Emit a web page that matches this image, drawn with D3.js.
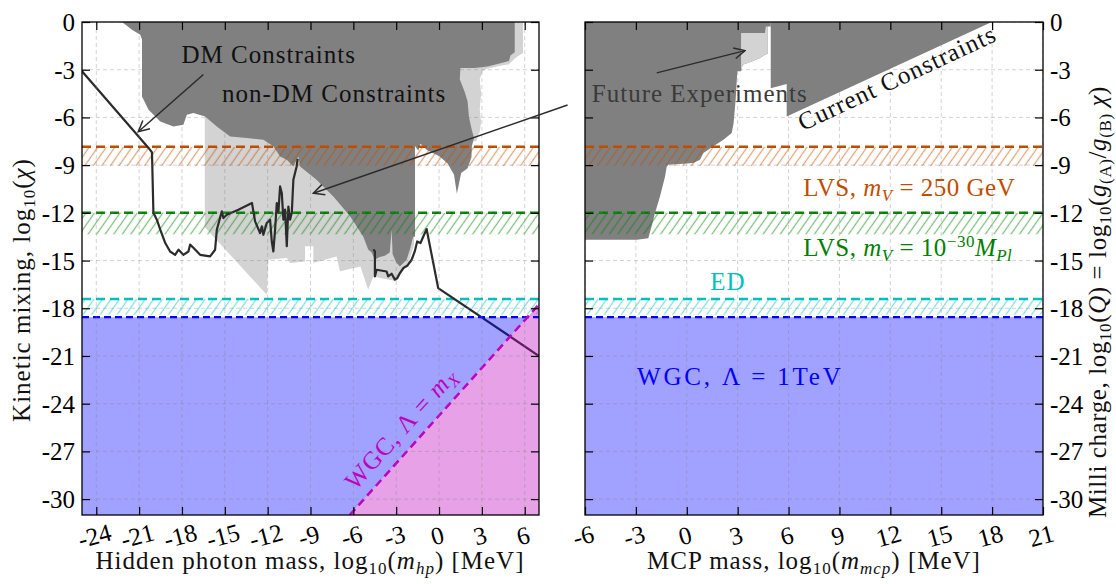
<!DOCTYPE html>
<html>
<head>
<meta charset="utf-8">
<script src="https://cdn.jsdelivr.net/npm/d3@7"></script>
<style>
  body { margin: 0; background: #fff; }
  svg { display: block; }
  text { font-family: "Liberation Serif", "Times New Roman", serif; }
</style>
</head>
<body>
<svg id="chart" width="1116" height="584"></svg>
<script>
// ---- tick values -------------------------------------------------------
const hpTicks = d3.range(-24, 7, 3);      // hidden photon mass, log10 MeV
const mcpTicks = d3.range(-6, 22, 3);     // milli-charged particle mass, log10 MeV
const chiTicks = d3.range(0, -31, -3);    // log10 of kinetic mixing / milli charge

// ---- horizontal bounds: [dashed line, lower edge of hatched band] ------
const lvs250 = [-7.85, -9.05];
const lvsPlanck = [-12.0, -13.35];
const edBound = [-17.42, -18.4];
const wgcTeV = -18.56;
// WGC with cutoff at the vector mass: log10(chi) = log10(m) - 24.75
const wgcMx = [[-6.25, -31], [7, -17.75]];

// ---- hidden photon panel regions (log10 m, log10 chi) -------------------
const hpNonDM = [
  [-22.2, 0], [5.3, 0], [5.3, -1.9], [5.0, -2.1], [4.9, -2.45], [4.3, -2.6], [3.4, -2.8],
  [2.5, -2.9], [1.5, -2.9], [1.45, -3.6], [1.8, -4.4], [2.0, -5.0], [2.1, -6.0], [2.3, -6.8],
  [2.45, -7.3], [2.3, -7.8], [2.27, -8.5], [2.0, -9.2], [1.55, -9.5], [1.25, -10.8],
  [1.05, -9.6], [0.6, -8.9], [0.05, -8.45], [-0.85, -8.05], [-1.3, -7.65], [-1.45, -8.1],
  [-1.68, -7.8], [-1.68, -13.5], [-1.81, -13.5], [-2.04, -14.3], [-2.27, -14.95],
  [-2.74, -15.37], [-3.0, -15.1], [-3.25, -14.6], [-3.32, -13.06], [-3.45, -14.5],
  [-3.8, -14.7], [-4.2, -14.8], [-4.49, -14.95], [-4.72, -14.5], [-4.96, -14.3],
  [-5.3, -13.5], [-6.24, -12.2], [-7.4, -10.97], [-8.6, -9.9], [-9.73, -9.08],
  [-9.85, -8.45], [-10.2, -9.08], [-10.66, -8.66], [-11.13, -8.45], [-11.6, -7.82],
  [-12.3, -7.4], [-13.46, -7.3], [-14.63, -7.2], [-15.56, -6.57], [-16.38, -5.94],
  [-17.2, -5.72], [-17.66, -5.83], [-17.9, -6.46], [-18.6, -6.57], [-19.52, -6.25],
  [-20.34, -5.52], [-20.8, -4.68], [-20.8, -1.1], [-20.92, -0.8], [-21.5, -0.48]
];
const hpFuture = [
  [-16.4, -5.9], [-16.4, -12.9], [-12.06, -17.15], [-11.95, -14.95], [-10.66, -14.84],
  [-10.43, -15.16], [-9.38, -15.06], [-9.38, -14.1], [-8.8, -14.1], [-8.8, -15.16],
  [-7.17, -14.74], [-6.94, -15.68], [-5.5, -15.37], [-4.96, -16.84], [-4.6, -16.0],
  [-2.97, -16.3], [-2.4, -15.5], [-2.16, -15.2], [-1.75, -14.0], [-1.75, -8.5], [-8, -8]
];
const hpFutureHigh = [
  [1.0, 0], [5.88, 0], [5.88, -1.95], [5.6, -2.1], [5.3, -2.3], [4.9, -2.65], [4.3, -2.75],
  [3.3, -2.95], [3.05, -3.1], [2.85, -3.6], [2.95, -4.5], [2.85, -5.5], [2.95, -6.3],
  [2.85, -6.9], [2.6, -7.5], [2.0, -7.5], [1.0, -4.0]
];
// dark-matter bound, split where it runs under the non-DM region
const dmBoundLow = [
  [-25, -3.1], [-20.34, -7.92], [-20.1, -8.2], [-20.0, -12.0], [-19.76, -12.43],
  [-19.52, -13.06], [-19.17, -13.9], [-18.83, -14.43], [-18.48, -14.64], [-18.24, -14.32],
  [-17.9, -14.64], [-17.55, -14.43], [-17.43, -14.0], [-17.2, -14.2], [-16.73, -14.64],
  [-16.03, -14.74], [-15.68, -14.32], [-15.56, -13.06], [-15.21, -11.91], [-15.1, -12.33],
  [-14.86, -12.12], [-14.05, -11.8], [-13.1, -11.38], [-12.88, -12.54], [-12.53, -13.27],
  [-12.41, -12.85], [-12.3, -13.38], [-12.06, -12.64], [-11.83, -12.43], [-11.71, -13.8],
  [-11.6, -14.43], [-11.48, -13.06], [-11.36, -11.38], [-11.25, -12.0], [-11.13, -10.34],
  [-11.01, -10.75], [-10.9, -12.43], [-10.78, -11.8], [-10.66, -14.1], [-10.55, -11.6],
  [-10.43, -12.43], [-10.31, -12.0], [-10.2, -9.92], [-9.97, -9.08], [-9.9, -8.6]
];
const dmBoundHigh = [
  [-4.6, -14.3], [-4.49, -14.43], [-4.49, -16.0], [-4.37, -15.58], [-3.67, -15.69],
  [-3.56, -16.0], [-3.32, -15.83], [-3.09, -16.2], [-2.92, -16.1], [-2.74, -15.79],
  [-2.5, -15.47], [-2.23, -15.33], [-1.92, -14.95], [-1.7, -14.43], [-1.53, -13.8],
  [-1.3, -13.9], [-0.87, -13.02], [-0.06, -16.73], [7, -21.0]
];

// ---- milli-charge panel regions ----------------------------------------
const mcpCurrentLow = [
  [-6, 0], [4.95, 0], [4.95, -0.28], [4.78, -0.28], [4.78, -2.0], [4.61, -2.06],
  [4.32, -2.27], [3.83, -2.48], [3.3, -2.69], [3.2, -3.1], [2.98, -3.1], [2.88, -4.89],
  [2.76, -6.35], [2.65, -6.98], [2.16, -7.4], [1.57, -7.82], [0.98, -8.24], [0.78, -8.66],
  [0.39, -8.87], [-1.09, -8.97], [-1.18, -9.08], [-1.28, -9.71], [-1.58, -10.97],
  [-1.87, -12.0], [-2.07, -12.85], [-2.27, -13.6], [-2.95, -13.69], [-6, -13.69]
];
const mcpCurrentHigh = [
  [4.95, 0], [17.98, 0], [5.89, -5.94], [5.89, -3.9], [5.0, -4.15], [4.95, -4.15]
];
const mcpFuture = [
  [3.2, -0.69], [4.61, -0.69], [4.66, -0.28], [4.78, -0.28], [4.78, -2.0], [4.61, -2.06],
  [4.32, -2.27], [3.83, -2.48], [3.3, -2.69], [3.2, -3.1]
];

// ---- colours -------------------------------------------------------------
const C = {
  dark: "#808080", light: "#d3d3d3", dm: "#2b2b2b",
  orange: "#bf4d00", green: "#008000", cyan: "#00bfbf", blue: "#0000ff", magenta: "#bf00bf"
};

const svg = d3.select("#chart");
const defs = svg.append("defs");
const TOP = 22, BOTTOM = 515;
const y = d3.scaleLinear().domain([0, -31]).range([TOP, BOTTOM]);
const xHP = d3.scaleLinear().domain([-25, 7]).range([82, 539]);
const xMCP = d3.scaleLinear().domain([-6, 21]).range([585, 1043]);

function hatch(id, color) {
  const p = defs.append("pattern").attr("id", id).attr("patternUnits", "userSpaceOnUse")
    .attr("width", 7).attr("height", 10).attr("patternTransform", "rotate(35)");
  p.append("line").attr("x1", 3.5).attr("x2", 3.5).attr("y1", -1).attr("y2", 11)
    .attr("stroke", color).attr("stroke-width", 1.3).attr("stroke-opacity", 0.5);
}
hatch("hatch-orange", C.orange);
hatch("hatch-green", C.green);
hatch("hatch-cyan", C.cyan);

defs.append("marker").attr("id", "arrow").attr("viewBox", "0 0 12 12")
  .attr("refX", 11).attr("refY", 6).attr("markerWidth", 13).attr("markerHeight", 13)
  .attr("markerUnits", "userSpaceOnUse").attr("orient", "auto")
  .append("path").attr("d", "M1,1 L11,6 L1,11").attr("fill", "none")
  .attr("stroke", C.dm).attr("stroke-width", 1.4);

// rich text: parts are [string, kind] with kind in "", "i", "sub", "subi", "sup"
function rich(sel, parts) {
  let shift = 0;
  parts.forEach(([s, k]) => {
    const target = k.startsWith("sub") ? 5 : (k === "sup" ? -9 : 0);
    const ts = sel.append("tspan").attr("dy", target - shift).text(s);
    shift = target;
    if (target !== 0) ts.attr("font-size", "0.68em");
    if (k === "i" || k === "subi") ts.attr("font-style", "italic");
  });
  return sel;
}

function panel(x, xTicks, yLabelSide) {
  const [x0, x1] = x.range();
  const id = "clip" + Math.round(x0);
  defs.append("clipPath").attr("id", id).append("rect")
    .attr("x", x0).attr("y", TOP).attr("width", x1 - x0).attr("height", BOTTOM - TOP);
  const g = svg.append("g");
  const plot = g.append("g").attr("clip-path", `url(#${id})`);
  const area = d3.line().x(d => x(d[0])).y(d => y(d[1]));

  const drawBands = () => {
    [[lvs250, "hatch-orange"], [lvsPlanck, "hatch-green"], [edBound, "hatch-cyan"]]
      .forEach(([b, pat]) => {
        plot.append("rect").attr("x", x0).attr("width", x1 - x0)
          .attr("y", y(b[0])).attr("height", y(b[1]) - y(b[0]))
          .attr("fill", `url(#${pat})`);
      });
    [[lvs250[0], C.orange], [lvsPlanck[0], C.green], [edBound[0], C.cyan]].forEach(([v, c]) => {
      plot.append("line").attr("x1", x0).attr("x2", x1).attr("y1", y(v)).attr("y2", y(v))
        .attr("stroke", c).attr("stroke-width", 2.5).attr("stroke-dasharray", "9,5");
    });
  };

  const drawAxes = () => {
    const fmt = d => String(d);
    const bottom = g.append("g").attr("transform", `translate(0,${BOTTOM})`)
      .call(d3.axisBottom(x).tickValues(xTicks).tickSizeInner(-8).tickSizeOuter(0).tickFormat(fmt));
    bottom.selectAll("text").attr("y", 0).attr("dy", 0)
      .attr("transform", "translate(0,29) rotate(-15)");
    const top = g.append("g").attr("transform", `translate(0,${TOP})`)
      .call(d3.axisTop(x).tickValues(xTicks).tickSizeInner(-8).tickSizeOuter(0).tickFormat(""));
    const left = g.append("g").attr("transform", `translate(${x0},0)`)
      .call(d3.axisLeft(y).tickValues(chiTicks).tickSizeInner(-8).tickSizeOuter(0)
        .tickFormat(yLabelSide === "left" ? fmt : ""));
    const right = g.append("g").attr("transform", `translate(${x1},0)`)
      .call(d3.axisRight(y).tickValues(chiTicks).tickSizeInner(-8).tickSizeOuter(0)
        .tickFormat(yLabelSide === "right" ? fmt : ""));
    left.selectAll("text").attr("x", -7).attr("dy", "0.34em");
    right.selectAll("text").attr("x", 7).attr("dy", "0.34em");
    [bottom, top, left, right].forEach(a => {
      a.attr("font-size", 25).attr("font-family", null);
      a.select(".domain").remove();
      a.selectAll("line").attr("stroke-width", 1.2);
    });
  };

  const drawGrid = () => {
    const grid = plot.append("g").attr("stroke", "#808080").attr("stroke-opacity", 0.35)
      .attr("stroke-dasharray", "4,3").attr("stroke-width", 1);
    xTicks.forEach(t => grid.append("line").attr("x1", x(t)).attr("x2", x(t))
      .attr("y1", TOP).attr("y2", BOTTOM));
    chiTicks.forEach(t => grid.append("line").attr("x1", x0).attr("x2", x1)
      .attr("y1", y(t)).attr("y2", y(t)));
  };

  const drawFrame = () => {
    g.append("rect").attr("x", x0).attr("y", TOP).attr("width", x1 - x0)
      .attr("height", BOTTOM - TOP).attr("fill", "none").attr("stroke", "#000")
      .attr("stroke-width", 1.3);
  };

  return { g, plot, area, x0, x1, drawBands, drawAxes, drawGrid, drawFrame };
}

// ================= hidden photon panel ===================================
const hp = panel(xHP, hpTicks, "left");
[hpFuture, hpFutureHigh].forEach(p =>
  hp.plot.append("path").attr("d", hp.area(p) + "Z").attr("fill", C.light));
hp.plot.append("path").attr("d", hp.area(hpNonDM) + "Z").attr("fill", C.dark);
hp.drawBands();
[dmBoundLow, dmBoundHigh].forEach(p =>
  hp.plot.append("path").attr("d", hp.area(p)).attr("fill", "none")
    .attr("stroke", C.dm).attr("stroke-width", 2.2).attr("stroke-linejoin", "round"));
hp.drawAxes();
// WGC exclusions
const xCross = wgcMx[0][0] + (wgcTeV - wgcMx[0][1]) *
  (wgcMx[1][0] - wgcMx[0][0]) / (wgcMx[1][1] - wgcMx[0][1]);
hp.plot.append("path")
  .attr("d", hp.area([[-25, wgcTeV], [xCross, wgcTeV], wgcMx[0], [-25, -31]]) + "Z")
  .attr("fill", C.blue).attr("fill-opacity", 0.37);
hp.plot.append("path")
  .attr("d", hp.area([wgcMx[0], wgcMx[1], [7, -31]]) + "Z")
  .attr("fill", C.magenta).attr("fill-opacity", 0.37);
hp.plot.append("line").attr("x1", hp.x0).attr("x2", hp.x1)
  .attr("y1", y(wgcTeV)).attr("y2", y(wgcTeV))
  .attr("stroke", C.blue).attr("stroke-width", 2.2).attr("stroke-dasharray", "7,4");
hp.plot.append("path").attr("d", hp.area(wgcMx)).attr("stroke", C.magenta)
  .attr("stroke-width", 2.5).attr("stroke-dasharray", "8,5").attr("fill", "none");
hp.drawGrid();
hp.drawFrame();

// ================= milli-charge panel ====================================
const mcp = panel(xMCP, mcpTicks, "right");
[mcpCurrentLow, mcpCurrentHigh].forEach(p =>
  mcp.plot.append("path").attr("d", mcp.area(p) + "Z").attr("fill", C.dark));
mcp.plot.append("path").attr("d", mcp.area(mcpFuture) + "Z").attr("fill", C.light);
mcp.drawBands();
mcp.drawAxes();
mcp.plot.append("rect").attr("x", mcp.x0).attr("width", mcp.x1 - mcp.x0)
  .attr("y", y(wgcTeV)).attr("height", BOTTOM - y(wgcTeV))
  .attr("fill", C.blue).attr("fill-opacity", 0.37);
mcp.plot.append("line").attr("x1", mcp.x0).attr("x2", mcp.x1)
  .attr("y1", y(wgcTeV)).attr("y2", y(wgcTeV))
  .attr("stroke", C.blue).attr("stroke-width", 2.2).attr("stroke-dasharray", "7,4");
mcp.drawGrid();
mcp.drawFrame();

// ================= annotations ===========================================
const FS = 25;
function label(px, py, color, parts, opts = {}) {
  const t = svg.append("text").attr("x", px).attr("y", py).attr("fill", color)
    .attr("font-size", opts.size || FS).attr("text-anchor", opts.anchor || "start")
    .attr("letter-spacing", opts.spacing === undefined ? 1 : opts.spacing);
  if (opts.rotate !== undefined)
    t.attr("transform", `rotate(${opts.rotate},${px},${py})`);
  return rich(t, parts);
}
function arrow(p0, p1) {
  svg.append("line").attr("x1", p0[0]).attr("y1", p0[1]).attr("x2", p1[0]).attr("y2", p1[1])
    .attr("stroke", C.dm).attr("stroke-width", 1.5).attr("marker-end", "url(#arrow)");
}

// hidden photon panel
label(xHP(-18.03), y(-2.6), "#111", [["DM Constraints", ""]]);
label(xHP(-15.2), y(-5.0), "#111", [["non-DM Constraints", ""]]);
arrow([xHP(-16.5), y(-3.3)], [xHP(-21.06), y(-6.9)]);
arrow([xHP(9.0), y(-5.22)], [xHP(-8.8), y(-10.77)]);
label(xHP(-5.85), y(-29.5), C.magenta,
  [["WGC, Λ = ", ""], ["m", "i"], ["X", "subi"]], { rotate: -48 });

// milli-charge panel
label(xMCP(-5.6), y(-5.0), "#3a3a3a", [["Future Experiments", ""]]);
arrow([xMCP(-1.77), y(-3.2)], [xMCP(3.43), y(-1.8)]);
label(xMCP(12.6), y(-4.0), "#111", [["Current Constraints", ""]],
  { anchor: "middle", rotate: -25 }).attr("dy", "0.35em");
label(xMCP(6.87), y(-10.97), C.orange,
  [["LVS, ", ""], ["m", "i"], ["V", "subi"], [" = 250 GeV", ""]], { spacing: 0.5 });
label(xMCP(6.87), y(-14.74), C.green,
  [["LVS, ", ""], ["m", "i"], ["V", "subi"], [" = 10", ""], ["−30", "sup"], ["M", "i"], ["Pl", "subi"]],
  { spacing: 0.5 });
label(xMCP(2.43), y(-16.87), C.cyan, [["ED", ""]], { anchor: "middle" });
label(xMCP(-2.93), y(-22.8), C.blue, [["WGC, Λ = 1TeV", ""]], { spacing: 2.8 });

// axis titles
label(310, 569, "#111",
  [["Hidden photon mass, log", ""], ["10", "sub"], ["(", ""], ["m", "i"], ["hp", "subi"], [") [MeV]", ""]],
  { anchor: "middle" });
label(814, 569, "#111",
  [["MCP mass, log", ""], ["10", "sub"], ["(", ""], ["m", "i"], ["mcp", "subi"], [") [MeV]", ""]],
  { anchor: "middle" });
label(30, 290, "#111",
  [["Kinetic mixing, log", ""], ["10", "sub"], ["(", ""], ["χ", "i"], [")", ""]],
  { anchor: "middle", rotate: -90 });
label(1106, 302, "#111",
  [["Milli charge, log", ""], ["10", "sub"], ["(", ""], ["Q", "i"], [") = log", ""], ["10", "sub"],
   ["(", ""], ["g", "i"], ["(A)", "sub"], ["/", ""], ["g", "i"], ["(B)", "sub"], [" ", ""], ["χ", "i"], [")", ""]],
  { anchor: "middle", rotate: -90, spacing: 0.6 });
</script>
</body>
</html>
